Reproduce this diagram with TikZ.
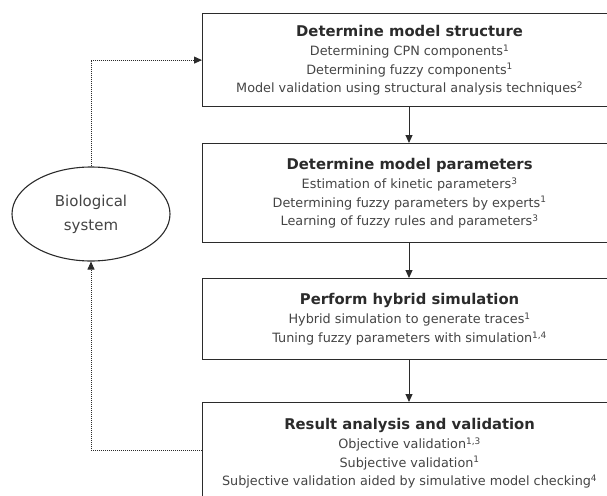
\documentclass[tikz,border=0pt]{standalone}
\usepackage{fontspec}
\setmainfont{DejaVu Sans}
\usetikzlibrary{arrows.meta,shapes.geometric}
\definecolor{ink}{HTML}{2B2B2B}
\definecolor{txt}{HTML}{444444}
\tikzset{
  stagebox/.style={draw=ink, line width=1.2pt, anchor=north west, minimum width=414pt,
    align=center, inner sep=0pt, text=txt, font=\fontsize{12.8}{18.5}\selectfont},
  flow/.style={draw=ink, line width=1pt, -{Triangle[length=8pt,width=7pt]}},
  feedback/.style={draw=ink, line width=0.9pt, dash pattern=on 1pt off 1pt, -{Triangle[length=8pt,width=7pt]}},
  sysnode/.style={draw=ink, line width=1.1pt, ellipse, minimum width=158pt, minimum height=94pt,
    align=center, text=txt, font=\fontsize{15}{24}\selectfont}
}
\newcommand{\ttl}[1]{{\fontsize{14.8}{20}\selectfont\bfseries\color{ink}#1}}
\begin{document}
\begin{tikzpicture}[x=1pt,y=-1pt]
\useasboundingbox (0,0) rectangle (607,495);
\clip (0,0) rectangle (607,495);
\node[stagebox, minimum height=93pt] (b1) at (202,13)
  {\ttl{Determine model structure}\\[1pt]
   Determining CPN components\textsuperscript{1}\\
   Determining fuzzy components\textsuperscript{1}\\
   Model validation using structural analysis techniques\textsuperscript{2}};
\node[stagebox, minimum height=99pt] (b2) at (202,143)
  {\ttl{Determine model parameters}\\[1pt]
   Estimation of kinetic parameters\textsuperscript{3}\\
   Determining fuzzy parameters by experts\textsuperscript{1}\\
   Learning of fuzzy rules and parameters\textsuperscript{3}};
\node[stagebox, minimum height=81pt] (b3) at (202,278)
  {\ttl{Perform hybrid simulation}\\[1pt]
   Hybrid simulation to generate traces\textsuperscript{1}\\
   Tuning fuzzy parameters with simulation\textsuperscript{1,4}};
\node[stagebox, minimum height=101pt] (b4) at (202,402)
  {\ttl{Result analysis and validation}\\[1pt]
   Objective validation\textsuperscript{1,3}\\
   Subjective validation\textsuperscript{1}\\
   Subjective validation aided by simulative model checking\textsuperscript{4}};
\node[sysnode] (sys) at (91,214) {Biological\\system};
\coordinate (b4out) at (202,450);
\draw[flow] (b1.south -| 409,0) -- (b2.north -| 409,0);
\draw[flow] (b2.south -| 409,0) -- (b3.north -| 409,0);
\draw[flow] (b3.south -| 409,0) -- (b4.north -| 409,0);
\draw[feedback] (sys.north) |- (b1.west);
\draw[feedback] (b4out) -| (sys.south);
\end{tikzpicture}
\end{document}
